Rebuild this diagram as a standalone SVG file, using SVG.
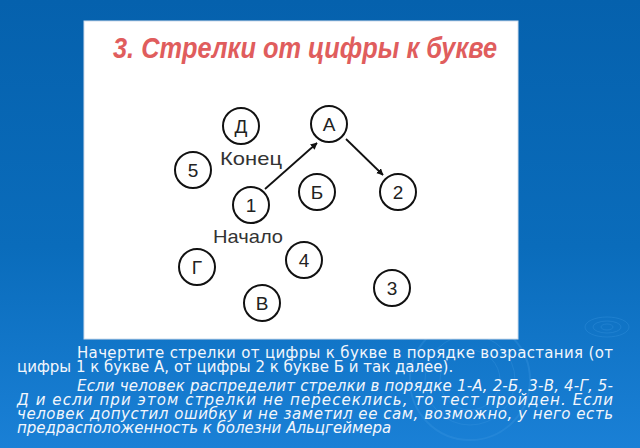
<svg xmlns="http://www.w3.org/2000/svg" width="640" height="448" viewBox="0 0 640 448">
<defs>
<linearGradient id="bg" x1="0" y1="0" x2="0" y2="1">
<stop offset="0" stop-color="#0561ad"/>
<stop offset="0.55" stop-color="#0a6cbb"/>
<stop offset="1" stop-color="#1a80d6"/>
</linearGradient>
<marker id="ah" viewBox="0 0 10 10" refX="9" refY="5" markerWidth="7" markerHeight="7" orient="auto" markerUnits="userSpaceOnUse">
<path d="M0,0 L10,5 L0,10 z" fill="#111"/>
</marker>
<style>
.n circle{fill:#fff;stroke:#111;stroke-width:2}
.n text{font-family:"Liberation Sans","DejaVu Sans",sans-serif;font-size:19px;fill:#222;text-anchor:middle}
.lbl{font-family:"Liberation Sans","DejaVu Sans",sans-serif;font-size:19px;fill:#333}
.c{stroke:#111;stroke-width:1.8;fill:none;marker-end:url(#ah)}
.t{font-family:"DejaVu Sans","Liberation Sans",sans-serif;font-size:15px;fill:#f2f6fc}
.ti{font-style:italic}
.rip{fill:none;stroke:#3a95e0;stroke-opacity:0.35}
</style>
</defs>
<rect width="640" height="448" fill="url(#bg)"/>
<g id="ripples">
<ellipse class="rip" cx="607" cy="327" rx="22" ry="10"/>
<ellipse class="rip" cx="607" cy="327" rx="14" ry="6"/>
<ellipse class="rip" cx="607" cy="327" rx="6" ry="3"/>
<circle class="rip" cx="470" cy="380" r="60" stroke-width="2"/>
<circle class="rip" cx="470" cy="380" r="45"/>
<circle class="rip" cx="470" cy="380" r="30"/>
</g>
<rect id="panel" x="84" y="21" width="434" height="318" fill="#fff" stroke="#cfdceb" stroke-width="1"/>
<text id="title" x="113" y="58" font-family="'Liberation Sans','DejaVu Sans',sans-serif" font-style="italic" font-weight="bold" font-size="30" fill="#e05d5d" textLength="384" lengthAdjust="spacingAndGlyphs">3. Стрелки от цифры к букве</text>
<g id="connectors">
<line class="c" x1="265" y1="189" x2="317" y2="143"/>
<line class="c" x1="346" y1="139" x2="383" y2="175"/>
</g>
<g id="node-D" class="n"><circle cx="241" cy="126" r="18"/><text x="241" y="133">Д</text></g>
<g id="node-A" class="n"><circle cx="329" cy="124" r="18"/><text x="329" y="131">А</text></g>
<g id="node-5" class="n"><circle cx="193" cy="170" r="18"/><text x="193" y="177">5</text></g>
<g id="node-B2" class="n"><circle cx="317" cy="192" r="18"/><text x="317" y="199">Б</text></g>
<g id="node-2" class="n"><circle cx="398" cy="192" r="18"/><text x="398" y="199">2</text></g>
<g id="node-1" class="n"><circle cx="251" cy="205" r="18"/><text x="251" y="212">1</text></g>
<g id="node-4" class="n"><circle cx="304" cy="260" r="18"/><text x="304" y="267">4</text></g>
<g id="node-G" class="n"><circle cx="197" cy="267" r="18"/><text x="197" y="274">Г</text></g>
<g id="node-3" class="n"><circle cx="392" cy="288" r="18"/><text x="392" y="295">3</text></g>
<g id="node-V" class="n"><circle cx="262" cy="303" r="18"/><text x="262" y="310">В</text></g>
<text id="end-label" class="lbl" x="220" y="165" textLength="62" lengthAdjust="spacingAndGlyphs">Конец</text>
<text id="start-label" class="lbl" x="213" y="243" textLength="70" lengthAdjust="spacingAndGlyphs">Начало</text>
<g id="caption">
<text class="t" x="77" y="358" textLength="536" lengthAdjust="spacing">Начертите стрелки от цифры к букве в порядке возрастания (от</text>
<text class="t" x="17" y="372">цифры 1 к букве А, от цифры 2 к букве Б и так далее).</text>
<text class="t ti" x="77" y="391" textLength="536" lengthAdjust="spacing">Если человек распределит стрелки в порядке 1-А, 2-Б, 3-В, 4-Г, 5-</text>
<text class="t ti" x="17" y="405" textLength="596" lengthAdjust="spacing">Д и если при этом стрелки не пересеклись, то тест пройден. Если</text>
<text class="t ti" x="17" y="419" textLength="596" lengthAdjust="spacing">человек допустил ошибку и не заметил ее сам, возможно, у него есть</text>
<text class="t ti" x="17" y="433">предрасположенность к болезни Альцгеймера</text>
</g>
</svg>
